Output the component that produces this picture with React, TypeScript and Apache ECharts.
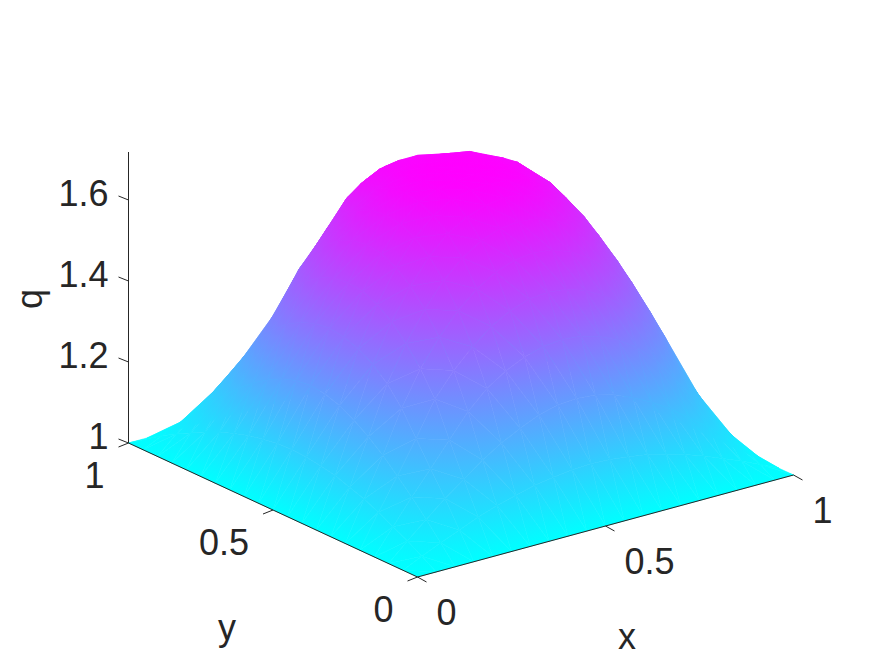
import React, { useEffect, useRef } from "react";
import * as echarts from "echarts";

const gridX = [0, 0.05, 0.1, 0.15, 0.2, 0.25, 0.3, 0.35, 0.4, 0.45, 0.5, 0.55, 0.6, 0.65, 0.7, 0.75, 0.8, 0.85, 0.9, 0.95, 1];
const gridY = gridX;
const qValues: number[][] = [
  [1, 1, 1, 1, 1, 1, 1, 1, 1, 1, 1, 1, 1, 1, 1, 1, 1, 1, 1, 1, 1],
  [1, 1.022, 1.043, 1.062, 1.081, 1.097, 1.11, 1.122, 1.129, 1.135, 1.137, 1.135, 1.129, 1.122, 1.11, 1.097, 1.081, 1.062, 1.043, 1.022, 1],
  [1, 1.043, 1.084, 1.123, 1.158, 1.193, 1.222, 1.246, 1.266, 1.278, 1.282, 1.278, 1.266, 1.246, 1.222, 1.193, 1.158, 1.123, 1.084, 1.043, 1],
  [1, 1.062, 1.123, 1.18, 1.238, 1.296, 1.34, 1.371, 1.393, 1.406, 1.411, 1.406, 1.393, 1.371, 1.34, 1.296, 1.238, 1.18, 1.123, 1.062, 1],
  [1, 1.081, 1.158, 1.238, 1.323, 1.381, 1.427, 1.464, 1.49, 1.506, 1.511, 1.506, 1.49, 1.464, 1.427, 1.356, 1.281, 1.216, 1.158, 1.081, 1],
  [1, 1.097, 1.193, 1.296, 1.381, 1.446, 1.499, 1.54, 1.569, 1.586, 1.592, 1.586, 1.569, 1.54, 1.499, 1.428, 1.34, 1.266, 1.193, 1.097, 1],
  [1, 1.11, 1.222, 1.34, 1.427, 1.499, 1.557, 1.6, 1.63, 1.648, 1.652, 1.648, 1.63, 1.6, 1.557, 1.484, 1.42, 1.325, 1.222, 1.11, 1],
  [1, 1.122, 1.246, 1.371, 1.464, 1.54, 1.6, 1.644, 1.672, 1.689, 1.695, 1.689, 1.672, 1.669, 1.616, 1.54, 1.464, 1.371, 1.246, 1.122, 1],
  [1, 1.129, 1.266, 1.393, 1.49, 1.569, 1.63, 1.672, 1.701, 1.709, 1.712, 1.709, 1.701, 1.692, 1.648, 1.569, 1.49, 1.393, 1.266, 1.129, 1],
  [1, 1.135, 1.278, 1.406, 1.506, 1.586, 1.648, 1.689, 1.709, 1.717, 1.719, 1.717, 1.709, 1.7, 1.668, 1.586, 1.506, 1.406, 1.278, 1.135, 1],
  [1, 1.137, 1.282, 1.411, 1.511, 1.592, 1.652, 1.695, 1.712, 1.719, 1.72, 1.719, 1.712, 1.7, 1.652, 1.592, 1.511, 1.411, 1.282, 1.137, 1],
  [1, 1.135, 1.278, 1.406, 1.506, 1.586, 1.648, 1.689, 1.709, 1.717, 1.719, 1.717, 1.709, 1.689, 1.648, 1.586, 1.506, 1.406, 1.278, 1.135, 1],
  [1, 1.129, 1.266, 1.393, 1.49, 1.569, 1.63, 1.672, 1.701, 1.709, 1.712, 1.709, 1.701, 1.672, 1.63, 1.569, 1.49, 1.393, 1.266, 1.129, 1],
  [1, 1.122, 1.246, 1.371, 1.464, 1.54, 1.6, 1.644, 1.672, 1.689, 1.695, 1.689, 1.672, 1.644, 1.6, 1.54, 1.464, 1.371, 1.246, 1.122, 1],
  [1, 1.11, 1.222, 1.34, 1.427, 1.499, 1.557, 1.6, 1.63, 1.648, 1.652, 1.648, 1.63, 1.6, 1.557, 1.499, 1.427, 1.34, 1.222, 1.11, 1],
  [1, 1.097, 1.193, 1.296, 1.381, 1.446, 1.499, 1.54, 1.569, 1.586, 1.592, 1.586, 1.569, 1.54, 1.499, 1.446, 1.381, 1.296, 1.193, 1.097, 1],
  [1, 1.081, 1.158, 1.238, 1.323, 1.381, 1.427, 1.464, 1.49, 1.506, 1.511, 1.506, 1.49, 1.464, 1.427, 1.381, 1.323, 1.238, 1.158, 1.081, 1],
  [1, 1.062, 1.123, 1.18, 1.238, 1.296, 1.34, 1.371, 1.393, 1.406, 1.411, 1.406, 1.393, 1.371, 1.34, 1.296, 1.238, 1.18, 1.123, 1.062, 1],
  [1, 1.043, 1.084, 1.123, 1.158, 1.193, 1.222, 1.246, 1.266, 1.278, 1.282, 1.278, 1.266, 1.246, 1.222, 1.193, 1.158, 1.123, 1.084, 1.043, 1],
  [1, 1.022, 1.043, 1.062, 1.081, 1.097, 1.11, 1.122, 1.129, 1.135, 1.137, 1.135, 1.129, 1.122, 1.11, 1.097, 1.081, 1.062, 1.043, 1.022, 1],
  [1, 1, 1, 1, 1, 1, 1, 1, 1, 1, 1, 1, 1, 1, 1, 1, 1, 1, 1, 1, 1],
];
const xTicks = [0, 0.5, 1];
const yTicks = [0, 0.5, 1];
const zTicks = [1, 1.2, 1.4, 1.6];
const xTickLabels = ["0", "0.5", "1"];
const yTickLabels = ["0", "0.5", "1"];
const zTickLabels = ["1", "1.2", "1.4", "1.6"];
const zTop = 1.7185;
const qMin = 1;
const qMax = 1.72;

const INK = "#262626";
const FONT = "'Liberation Sans', Arial, Helvetica, sans-serif";
const FS = 36;
const MAX_SLOPE = 0.004;

// Parallel projection of the 3-D data box on the page plane.
const project = (x: number, y: number, z: number): [number, number] => [
  417.5 + 376 * x - 289 * y,
  577 - 102 * x - 134 * y - 405 * (z - 1),
];

// The "cool" colormap, as a gradient whose ends sit where q would reach qMin and qMax.
const triFill = (p: number[][], q: number[]) => {
  const ax = p[1][0] - p[0][0], ay = p[1][1] - p[0][1];
  const bx = p[2][0] - p[0][0], by = p[2][1] - p[0][1];
  const da = q[1] - q[0], db = q[2] - q[0];
  const det = ax * by - ay * bx;
  let gx = det === 0 ? 0 : (da * by - db * ay) / det;
  let gy = det === 0 ? 0 : (db * ax - da * bx) / det;
  let n = gx * gx + gy * gy;
  const qSpread = Math.max(q[0], q[1], q[2]) - Math.min(q[0], q[1], q[2]);
  const qMid = (q[0] + q[1] + q[2]) / 3;
  if (qSpread < 1e-6) {
    const c = Math.max(0, Math.min(1, (q[0] - qMin) / (qMax - qMin)));
    return `rgb(${Math.round(255 * c)},${Math.round(255 * (1 - c))},255)`;
  }
  // A triangle seen nearly edge-on: let colour follow the height on the page only.
  if (det === 0 || n > MAX_SLOPE * MAX_SLOPE) {
    const ys = p.map((k) => k[1]);
    const span = Math.max(...ys) - Math.min(...ys);
    gx = 0;
    gy = -(span === 0 ? 0.0024 : Math.min(MAX_SLOPE, qSpread / span));
    n = gy * gy;
  }
  const cx = (p[0][0] + p[1][0] + p[2][0]) / 3;
  const cy = (p[0][1] + p[1][1] + p[2][1]) / 3;
  const x0 = cx + ((qMin - qMid) * gx) / n;
  const y0 = cy + ((qMin - qMid) * gy) / n;
  const x1 = cx + ((qMax - qMid) * gx) / n;
  const y1 = cy + ((qMax - qMid) * gy) / n;
  return new echarts.graphic.LinearGradient(
    x0, y0, x1, y1,
    [{ offset: 0, color: "#00ffff" }, { offset: 1, color: "#ff00ff" }],
    true
  );
};

const cells: number[][] = [];
for (let i = gridX.length - 2; i >= 0; i--) {
  for (let j = gridY.length - 2; j >= 0; j--) cells.push([i, j]);
}

const renderCell = (_: any, api: any) => {
  const i = api.value(0);
  const j = api.value(1);
  const at = (a: number, b: number) => api.coord(project(gridX[a], gridY[b], qValues[a][b]));
  const p00 = at(i, j), p10 = at(i + 1, j), p01 = at(i, j + 1), p11 = at(i + 1, j + 1);
  const q00 = qValues[i][j], q10 = qValues[i + 1][j], q01 = qValues[i][j + 1], q11 = qValues[i + 1][j + 1];
  const tri = (p: number[][], q: number[]) => {
    const fill = triFill(p, q);
    return {
      type: "polygon",
      shape: { points: p },
      style: { fill, stroke: fill, lineWidth: 0.6 },
    };
  };
  return {
    type: "group",
    children: [tri([p10, p11, p01], [q10, q11, q01]), tri([p00, p10, p01], [q00, q10, q01])],
  };
};

const renderAxes = (_: any, api: any) => {
  const children: any[] = [];
  const line = (a: number[], b: number[]) =>
    children.push({
      type: "line",
      shape: { x1: a[0], y1: a[1], x2: b[0], y2: b[1] },
      style: { stroke: INK, lineWidth: 1 },
    });
  const label = (text: string, x: number, y: number, align: string, rotation = 0) =>
    children.push({
      type: "text",
      x,
      y,
      rotation,
      style: { text, x: 0, y: 0, align, verticalAlign: "middle", fontSize: FS, fontFamily: FONT, fill: INK },
    });
  const P = (x: number, y: number, z: number) => api.coord(project(x, y, z));

  line(P(0, 0, 1), P(1, 0, 1));
  line(P(0, 0, 1), P(0, 1, 1));
  line(P(0, 1, 1), P(0, 1, zTop));

  xTicks.forEach((t, k) => {
    const p = P(t, 0, 1);
    line(p, [p[0] + 9, p[1] + 5]);
    label(xTickLabels[k], p[0] + 19, p[1] + 35, "left");
  });
  yTicks.forEach((t, k) => {
    const p = P(0, t, 1);
    line(p, [p[0] - 10, p[1] + 4]);
    label(yTickLabels[k], p[0] - 24, p[1] + 32, "right");
  });
  zTicks.forEach((t, k) => {
    const p = P(0, 1, t);
    line(p, [p[0] - 10, p[1] - 4]);
    label(zTickLabels[k], p[0] - 20, p[1] - 7, "right");
  });

  label("x", 627, 636, "center");
  label("y", 227, 627, "center");
  label("q", 29, 299, "center", Math.PI / 2);
  return { type: "group", children };
};

export default function App() {
  const ref = useRef<HTMLDivElement>(null);
  useEffect(() => {
    const chart = echarts.init(ref.current!, undefined, { renderer: "svg" });
    chart.setOption({
      animation: false,
      backgroundColor: "#ffffff",
      grid: { left: 0, right: 0, top: 0, bottom: 0 },
      xAxis: { type: "value", min: 0, max: 875, show: false },
      yAxis: { type: "value", min: 0, max: 656, inverse: true, show: false },
      series: [
        { type: "custom", name: "q", coordinateSystem: "cartesian2d", clip: false, silent: true, data: cells, renderItem: renderCell },
        { type: "custom", name: "axes", coordinateSystem: "cartesian2d", clip: false, silent: true, data: [[0, 0]], renderItem: renderAxes },
      ],
    });
    return () => chart.dispose();
  }, []);
  return <div ref={ref} style={{ position: "fixed", left: 0, top: 0, width: 875, height: 656 }} />;
}
